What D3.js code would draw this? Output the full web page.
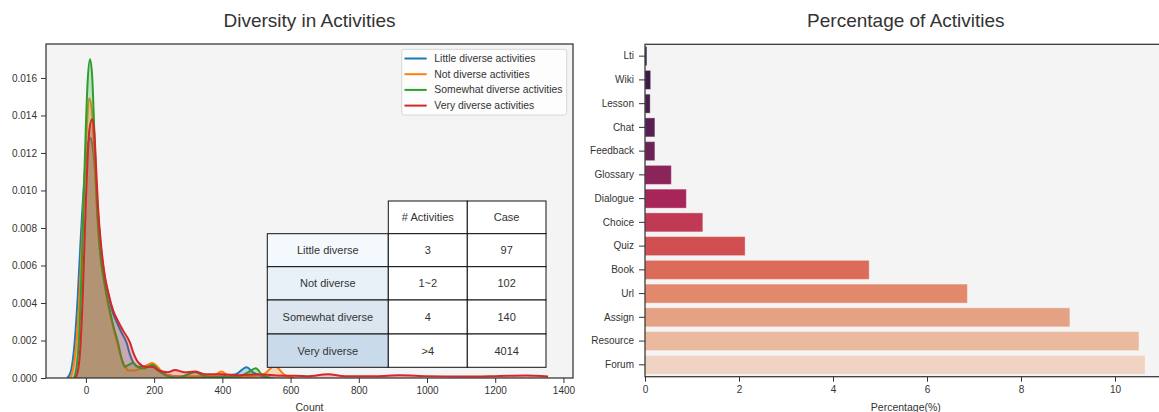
<!DOCTYPE html>
<html>
<head>
<meta charset="utf-8">
<script src="https://cdn.jsdelivr.net/npm/d3@7"></script>
<style>
  html, body { margin: 0; padding: 0; background: #fff; }
  svg { display: block; font-family: "Liberation Sans", Arial, sans-serif; }
</style>
</head>
<body>
<svg id="fig" width="1159" height="412"></svg>
<script>
// ---- Density curves: [count, density] pairs per diversity group ----
const groupNames = ["Little diverse activities", "Not diverse activities",
                    "Somewhat diverse activities", "Very diverse activities"];

const littleDiverse = [
  [-55, 0], [-45, 0.0003], [-35, 0.0015], [-25, 0.004], [-15, 0.0075], [-5, 0.0105],
  [5, 0.0124], [13, 0.0128], [22, 0.0120], [30, 0.0102], [38, 0.0082], [47, 0.0064],
  [57, 0.0052], [68, 0.0043], [77, 0.0036], [90, 0.0030], [105, 0.0024], [119, 0.0019],
  [130, 0.0012], [140, 0.0008], [155, 0.0006], [175, 0.0006], [195, 0.0006], [210, 0.0004],
  [230, 0.0002], [260, 0.0001], [320, 0.00005], [400, 0.0001], [440, 0.0002], [471, 0.00057],
  [490, 0.0003], [515, 0.0001], [550, 0]
];
const notDiverse = [
  [-45, 0], [-40, 0.0003], [-30, 0.0015], [-20, 0.004], [-10, 0.008], [0, 0.0125],
  [10, 0.0149], [18, 0.0142], [25, 0.0118], [32, 0.0090], [40, 0.0070], [50, 0.0056],
  [60, 0.0044], [70, 0.0035], [80, 0.0027], [90, 0.0020], [100, 0.0013], [110, 0.0008],
  [125, 0.0004], [140, 0.0004], [160, 0.0005], [180, 0.0007], [195, 0.0008], [210, 0.0006],
  [230, 0.0002], [260, 0.0001], [300, 0.0001], [340, 0.0001], [370, 0.0001], [398, 0.00034],
  [420, 0.0001], [450, 0.00005], [480, 0.0001], [520, 0.0002], [554, 0.00064], [580, 0.0002],
  [610, 0]
];
const somewhatDiverse = [
  [-35, 0], [-28, 0.0005], [-20, 0.0022], [-13, 0.0055], [-5, 0.0105], [0, 0.0135],
  [5, 0.0158], [12, 0.0170], [18, 0.0162], [25, 0.0130], [33, 0.0090], [42, 0.0066],
  [52, 0.0053], [60, 0.0045], [70, 0.0036], [80, 0.0028], [94, 0.0019], [105, 0.0010],
  [114, 0.0006], [125, 0.0007], [138, 0.0008], [150, 0.0006], [170, 0.0005], [195, 0.0007],
  [215, 0.0004], [240, 0.0001], [270, 0.00002], [300, 0.0002], [320, 0.0003], [350, 0.0001],
  [400, 0.00005], [450, 0.0001], [475, 0.0003], [498, 0.00052], [515, 0.0002], [540, 0]
];
const veryDiverse = [
  [-30, 0], [-20, 0.0008], [-10, 0.004], [0, 0.0095], [10, 0.0132], [18, 0.0138],
  [25, 0.0130], [30, 0.0112], [36, 0.0090], [45, 0.0070], [55, 0.0055], [65, 0.0046],
  [80, 0.0036], [95, 0.0030], [110, 0.0025], [129, 0.0019], [140, 0.0013], [155, 0.0008],
  [175, 0.0006], [195, 0.0006], [215, 0.0004], [240, 0.0003], [261, 0.00043], [290, 0.0003],
  [320, 0.00035], [350, 0.0002], [400, 0.0002], [450, 0.00015], [500, 0.0002], [550, 0.00015],
  [600, 0.00012], [650, 0.0001], [710, 0.0002], [760, 0.0001], [850, 0.0001], [920, 0.00015],
  [1000, 0.0001], [1100, 0.00008], [1200, 0.0001], [1290, 0.00013], [1355, 0.00008]
];
const densitySeries = [littleDiverse, notDiverse, somewhatDiverse, veryDiverse];

const countTicks = [0, 200, 400, 600, 800, 1000, 1200, 1400];
const densityTicks = [0, 0.002, 0.004, 0.006, 0.008, 0.010, 0.012, 0.014, 0.016];

// ---- Summary table ----
const tableHeader = ["# Activities", "Case"];
const tableRowLabels = ["Little diverse", "Not diverse", "Somewhat diverse", "Very diverse"];
const tableActivities = ["3", "1~2", "4", ">4"];
const tableCases = ["97", "102", "140", "4014"];

// ---- Activity share (%) ----
const activities = ["Lti", "Wiki", "Lesson", "Chat", "Feedback", "Glossary", "Dialogue",
                    "Choice", "Quiz", "Book", "Url", "Assign", "Resource", "Forum"];
const percentages = [0.04, 0.12, 0.11, 0.21, 0.21, 0.56, 0.88, 1.23, 2.13, 4.77, 6.86,
                     9.04, 10.51, 10.64];
const percentTicks = [0, 2, 4, 6, 8, 10];

// ---- Styles ----
const lineColors = ["#1f77b4", "#ff7f0e", "#2ca02c", "#d62728"];
const barColors = ["#2f1d3e", "#3b1c46", "#471d4c", "#5a1f52", "#6d2157", "#8a2459",
                   "#a8255a", "#c03a55", "#d14f50", "#dd6b59", "#e2896c", "#e5a183",
                   "#eab99e", "#f0d3c2"];
const rowColors = ["#f3f9fc", "#e8f0f8", "#dbe6f1", "#c9dbeb"];
const axisBg = "#f4f4f4";
const spineColor = "#333";
const textColor = "#333";

const svg = d3.select("#fig");
svg.append("rect").attr("width", 1159).attr("height", 412).attr("fill", "#fff");

function drawAxisStyle(g) {
  g.selectAll(".domain").remove();
  g.selectAll(".tick line").attr("stroke", spineColor).attr("stroke-width", 1);
  g.selectAll(".tick text").attr("fill", textColor).attr("font-size", 10)
    .attr("font-family", "'Liberation Sans', Arial, sans-serif");
}

// ================= Left panel: density plot =================
const L = { left: 46, right: 573, top: 44, bottom: 378 };
const x1 = d3.scaleLinear().domain([-117, 1428]).range([L.left, L.right]);
const y1 = d3.scaleLinear().domain([0, 0.01781]).range([L.bottom, L.top]);

svg.append("rect").attr("x", L.left).attr("y", L.top)
  .attr("width", L.right - L.left).attr("height", L.bottom - L.top).attr("fill", axisBg);

svg.append("clipPath").attr("id", "clipL").append("rect")
  .attr("x", L.left).attr("y", L.top).attr("width", L.right - L.left).attr("height", L.bottom - L.top);

const plotL = svg.append("g").attr("clip-path", "url(#clipL)");
const area = d3.area().x(d => x1(d[0])).y0(y1(0)).y1(d => y1(d[1])).curve(d3.curveMonotoneX);
const line = d3.line().x(d => x1(d[0])).y(d => y1(d[1])).curve(d3.curveMonotoneX);

densitySeries.forEach((s, i) => {
  plotL.append("path").attr("d", area(s)).attr("fill", lineColors[i]).attr("fill-opacity", 0.25);
  plotL.append("path").attr("d", line(s)).attr("fill", "none")
    .attr("stroke", lineColors[i]).attr("stroke-width", 2).attr("stroke-linejoin", "round");
});

svg.append("g").attr("transform", `translate(0,${L.bottom})`)
  .call(d3.axisBottom(x1).tickValues(countTicks).tickSize(5).tickPadding(4).tickFormat(d3.format("d")))
  .call(drawAxisStyle);
svg.append("g").attr("transform", `translate(${L.left},0)`)
  .call(d3.axisLeft(y1).tickValues(densityTicks).tickSize(5).tickPadding(4).tickFormat(d3.format(".3f")))
  .call(drawAxisStyle);

// Summary table inside the density panel
const tCols = [267.3, 388.3, 467.3, 546];
const tRows = [201, 233.7, 266.7, 300, 334, 367.3];
const tg = svg.append("g").attr("font-size", 11).attr("fill", textColor);
tableHeader.forEach((h, j) => {
  tg.append("rect").attr("x", tCols[j + 1]).attr("y", tRows[0])
    .attr("width", tCols[j + 2] - tCols[j + 1]).attr("height", tRows[1] - tRows[0])
    .attr("fill", "#fff").attr("stroke", "#111").attr("stroke-width", 1);
  tg.append("text").attr("x", (tCols[j + 1] + tCols[j + 2]) / 2).attr("y", (tRows[0] + tRows[1]) / 2)
    .attr("text-anchor", "middle").attr("dominant-baseline", "central").attr("fill", textColor).text(h);
});
tableRowLabels.forEach((lab, i) => {
  const cells = [lab, tableActivities[i], tableCases[i]];
  cells.forEach((c, j) => {
    tg.append("rect").attr("x", tCols[j]).attr("y", tRows[i + 1])
      .attr("width", tCols[j + 1] - tCols[j]).attr("height", tRows[i + 2] - tRows[i + 1])
      .attr("fill", j === 0 ? rowColors[i] : "#fff").attr("stroke", "#111").attr("stroke-width", 1);
    tg.append("text").attr("x", (tCols[j] + tCols[j + 1]) / 2).attr("y", (tRows[i + 1] + tRows[i + 2]) / 2)
      .attr("text-anchor", "middle").attr("dominant-baseline", "central").attr("fill", textColor).text(c);
  });
});

// Legend
const lg = svg.append("g");
lg.append("rect").attr("x", 401.7).attr("y", 49.3).attr("width", 165).attr("height", 65.7)
  .attr("rx", 2.5).attr("fill", "#fff").attr("fill-opacity", 0.8).attr("stroke", "#d6d6d6");
groupNames.forEach((n, i) => {
  const yy = 58.5 + i * 15.7;
  lg.append("line").attr("x1", 404.5).attr("x2", 426.7).attr("y1", yy).attr("y2", yy)
    .attr("stroke", lineColors[i]).attr("stroke-width", 2);
  lg.append("text").attr("x", 434.3).attr("y", yy).attr("dominant-baseline", "central")
    .attr("font-size", 10.4).attr("fill", textColor).text(n);
});

// Spines, title, label
svg.append("rect").attr("x", L.left).attr("y", L.top)
  .attr("width", L.right - L.left).attr("height", L.bottom - L.top)
  .attr("fill", "none").attr("stroke", spineColor).attr("stroke-width", 1.25);
svg.append("text").attr("x", (L.left + L.right) / 2).attr("y", 27).attr("text-anchor", "middle")
  .attr("font-size", 19).attr("fill", textColor).text("Diversity in Activities");
svg.append("text").attr("x", (L.left + L.right) / 2).attr("y", 411).attr("text-anchor", "middle")
  .attr("font-size", 10.5).attr("fill", textColor).text("Count");

// ================= Right panel: horizontal bars =================
const R = { left: 645, right: 1166.7, top: 44.3, bottom: 376.7 };
const x2 = d3.scaleLinear().domain([0, 11.1]).range([R.left, R.right]);
const y2 = d3.scaleBand().domain(activities).range([R.top, R.bottom]).paddingInner(0.2).paddingOuter(0.1);

svg.append("rect").attr("x", R.left).attr("y", R.top)
  .attr("width", R.right - R.left).attr("height", R.bottom - R.top).attr("fill", axisBg);

svg.append("g").selectAll("rect").data(activities).join("rect")
  .attr("x", x2(0)).attr("y", d => y2(d))
  .attr("width", (d, i) => x2(percentages[i]) - x2(0)).attr("height", y2.bandwidth())
  .attr("fill", (d, i) => barColors[i])
  .attr("stroke", "#fff").attr("stroke-opacity", 0.35).attr("stroke-width", 1);

svg.append("g").attr("transform", `translate(0,${R.bottom})`)
  .call(d3.axisBottom(x2).tickValues(percentTicks).tickSize(5).tickPadding(4).tickFormat(d3.format("d")))
  .call(drawAxisStyle);
svg.append("g").attr("transform", `translate(${R.left},0)`)
  .call(d3.axisLeft(y2).tickSize(6).tickPadding(5))
  .call(drawAxisStyle);

svg.append("rect").attr("x", R.left).attr("y", R.top)
  .attr("width", R.right - R.left).attr("height", R.bottom - R.top)
  .attr("fill", "none").attr("stroke", spineColor).attr("stroke-width", 1.25);
svg.append("text").attr("x", (R.left + R.right) / 2).attr("y", 27).attr("text-anchor", "middle")
  .attr("font-size", 19).attr("fill", textColor).text("Percentage of Activities");
svg.append("text").attr("x", (R.left + R.right) / 2).attr("y", 411).attr("text-anchor", "middle")
  .attr("font-size", 10.5).attr("fill", textColor).text("Percentage(%)");
</script>
</body>
</html>
